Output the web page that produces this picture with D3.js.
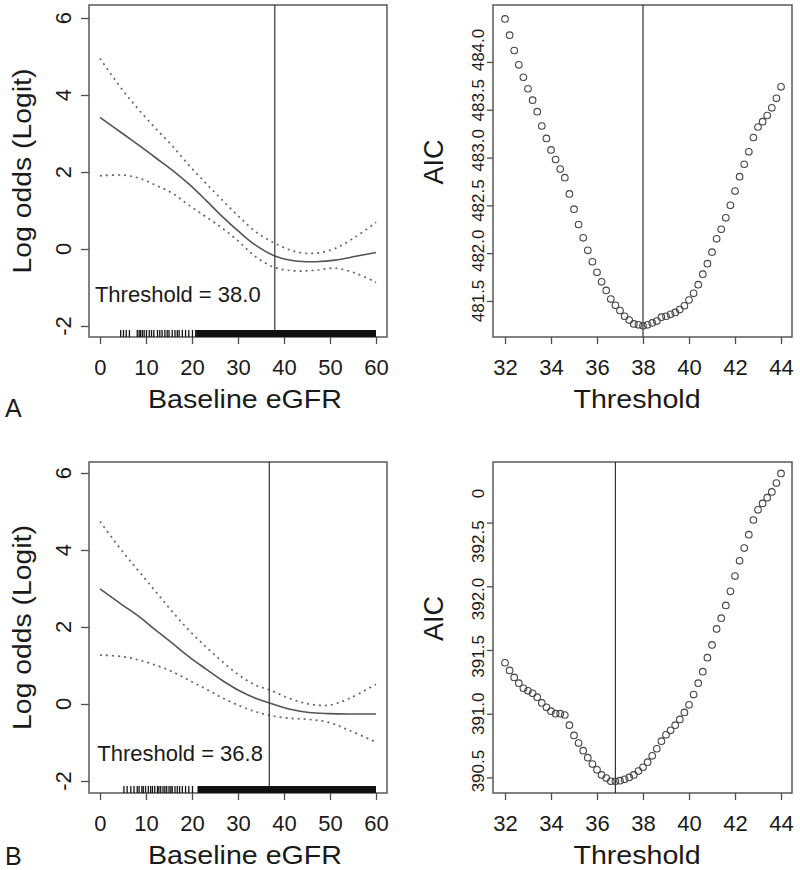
<!DOCTYPE html>
<html><head><meta charset="utf-8">
<script src="https://cdn.jsdelivr.net/npm/d3@7"></script>
<style>
body{margin:0;background:#fff}
svg{display:block}
text{font-family:"Liberation Sans",Arial,Helvetica,sans-serif;fill:#1a1a1a}
</style>
</head><body>
<svg id="c" width="800" height="870"></svg>
<script>
// ---------------- DATA ----------------
const eGFRTicks = [0, 10, 20, 30, 40, 50, 60];
const logitTicks = [-2, 0, 2, 4, 6];
const thresholdTicks = [32, 34, 36, 38, 40, 42, 44];
const aicTicksA = [481.5, 482.0, 482.5, 483.0, 483.5, 484.0];
const aicTicksB = [390.5, 391.0, 391.5, 392.0, 392.5];

// Panel A (left): smooth fit of log odds vs baseline eGFR
const eGFRGridA = [0, 4.9, 8.5, 12.1, 15.7, 19.3, 23, 26.6, 30.2, 33.8, 38, 42.5, 46.9, 51.2, 55.6, 60];
const fitA   = [3.42, 3.00, 2.69, 2.37, 2.05, 1.69, 1.27, 0.84, 0.45, 0.10, -0.18, -0.31, -0.33, -0.29, -0.19, -0.09];
const upperA = [4.95, 4.13, 3.61, 3.13, 2.68, 2.18, 1.71, 1.27, 0.84, 0.45, 0.15, -0.07, -0.11, 0.02, 0.32, 0.69];
const lowerA = [1.90, 1.92, 1.84, 1.66, 1.45, 1.14, 0.84, 0.54, 0.19, -0.20, -0.48, -0.57, -0.55, -0.50, -0.63, -0.87];
const rugA = [4.5, 5.1, 5.7, 6.4, 8.1, 8.5, 8.8, 9.2, 9.6, 10.1, 10.7, 11.2, 11.7, 12.5, 13.0, 13.5, 14.1, 14.6, 15.0, 15.7, 16.3, 16.8, 17.2, 17.9, 18.6, 19.3, 20.1, 20.8];
const rugDenseA = [20.9, 60];
const thresholdA = 38.0;

// Panel A (right): AIC by candidate threshold
const thresholds = [32.0,32.2,32.4,32.6,32.8,33.0,33.2,33.4,33.6,33.8,34.0,34.2,34.4,34.6,34.8,35.0,35.2,35.4,35.6,35.8,36.0,36.2,36.4,36.6,36.8,37.0,37.2,37.4,37.6,37.8,38.0,38.2,38.4,38.6,38.8,39.0,39.2,39.4,39.6,39.8,40.0,40.2,40.4,40.6,40.8,41.0,41.2,41.4,41.6,41.8,42.0,42.2,42.4,42.6,42.8,43.0,43.2,43.4,43.6,43.8,44.0];
const aicA = [484.45,484.28,484.12,483.97,483.84,483.72,483.60,483.48,483.33,483.20,483.08,482.98,482.88,482.79,482.62,482.46,482.30,482.16,482.03,481.91,481.80,481.70,481.61,481.52,481.455,481.40,481.34,481.30,481.26,481.25,481.24,481.25,481.27,481.29,481.33,481.34,481.36,481.38,481.41,481.45,481.51,481.58,481.67,481.78,481.89,482.01,482.15,482.25,482.37,482.50,482.65,482.80,482.93,483.06,483.21,483.32,483.375,483.44,483.52,483.62,483.74];

// Panel B (left)
const eGFRGridB = [0, 4.9, 8.5, 12.1, 15.7, 19.3, 23, 26.6, 30.2, 33.8, 37, 41.1, 45.4, 49.8, 54.1, 60];
const fitB   = [2.99, 2.57, 2.27, 1.92, 1.58, 1.23, 0.91, 0.61, 0.35, 0.15, 0.02, -0.13, -0.22, -0.25, -0.26, -0.26];
const upperB = [4.74, 3.96, 3.44, 2.92, 2.40, 1.92, 1.49, 1.10, 0.75, 0.49, 0.36, 0.15, 0.00, -0.03, 0.14, 0.51];
const lowerB = [1.27, 1.23, 1.14, 1.01, 0.84, 0.62, 0.39, 0.16, -0.04, -0.20, -0.30, -0.37, -0.40, -0.48, -0.68, -0.99];
const rugB = [5.2, 5.9, 6.7, 7.4, 8.1, 8.5, 9.1, 9.4, 9.9, 10.5, 11.0, 11.4, 11.9, 12.5, 12.8, 13.2, 13.7, 14.1, 14.5, 15.0, 15.4, 15.7, 16.3, 16.8, 17.3, 17.9, 18.6, 19.3, 20.1];
const rugDenseB = [21.2, 60];
const thresholdB = 36.8;

// Panel B (right)
const aicB = [391.40,391.34,391.285,391.24,391.20,391.18,391.16,391.13,391.085,391.05,391.02,391.00,391.00,390.99,390.91,390.83,390.77,390.71,390.655,390.605,390.56,390.52,390.495,390.47,390.47,390.475,390.485,390.50,390.52,390.55,390.58,390.62,390.67,390.725,390.785,390.835,390.87,390.91,390.955,391.01,391.07,391.15,391.24,391.33,391.44,391.54,391.665,391.75,391.85,391.96,392.08,392.20,392.30,392.405,392.52,392.60,392.65,392.695,392.74,392.81,392.885];
const strayLabelB = [{value: 392.92, text: "0"}];

// ---------------- DRAWING ----------------
const svg = d3.select("#c");
const BOX = "#4d4d4d";

function boxAndXAxis(g, x, top, bottom, left, right, xTicks) {
  g.append("rect").attr("x", left).attr("y", top).attr("width", right - left).attr("height", bottom - top)
    .attr("fill", "none").attr("stroke", BOX).attr("stroke-width", 1.4);
  const ax = g.append("g").attr("transform", `translate(0,${bottom})`)
    .call(d3.axisBottom(x).tickValues(xTicks).tickSize(7).tickFormat(d3.format("d")));
  ax.select(".domain").remove();
  ax.selectAll(".tick line").attr("stroke", BOX).attr("stroke-width", 1.3);
  ax.selectAll(".tick text").attr("y", 38).attr("dy", 0).attr("font-size", 22).attr("fill", "#1a1a1a");
}

function drawLeft(o) {
  const g = svg.append("g");
  const x = d3.scaleLinear().domain([-2.39, 62.39]).range([89, 387]);
  const y = d3.scaleLinear().domain(o.yDomain).range([o.bottom, o.top]);
  boxAndXAxis(g, x, o.top, o.bottom, 89, 387, eGFRTicks);

  const ay = g.append("g").attr("transform", "translate(89,0)")
    .call(d3.axisLeft(y).tickValues(logitTicks).tickSize(8).tickFormat(""));
  ay.select(".domain").remove();
  ay.selectAll(".tick line").attr("stroke", BOX).attr("stroke-width", 1.3);
  g.selectAll(null).data(logitTicks).join("text")
    .attr("transform", d => `translate(71,${y(d)}) rotate(-90)`)
    .attr("text-anchor", "middle").attr("font-size", 22).text(d => d);

  const line = d3.line().x((d, i) => x(o.grid[i])).y(d => y(d)).curve(d3.curveCatmullRom);
  g.append("path").attr("d", line(o.upper)).attr("fill", "none").attr("stroke", "#666")
    .attr("stroke-width", 1.7).attr("stroke-dasharray", "2,4");
  g.append("path").attr("d", line(o.lower)).attr("fill", "none").attr("stroke", "#666")
    .attr("stroke-width", 1.7).attr("stroke-dasharray", "2,4");
  g.append("path").attr("d", line(o.fit)).attr("fill", "none").attr("stroke", "#555").attr("stroke-width", 1.6);

  g.append("line").attr("x1", x(o.threshold)).attr("x2", x(o.threshold)).attr("y1", o.top).attr("y2", o.bottom)
    .attr("stroke", "#333").attr("stroke-width", 1.2);

  // rug
  g.selectAll(null).data(o.rug).join("line")
    .attr("x1", d => x(d)).attr("x2", d => x(d)).attr("y1", o.bottom - 7).attr("y2", o.bottom)
    .attr("stroke", "#111").attr("stroke-width", 1.3);
  g.append("rect").attr("x", x(o.rugDense[0])).attr("y", o.bottom - 7)
    .attr("width", x(o.rugDense[1]) - x(o.rugDense[0])).attr("height", 7).attr("fill", "#111");

  g.append("text").attr("x", x(o.labelAt[0])).attr("y", y(o.labelAt[1])).attr("font-size", 22)
    .text("Threshold = " + o.threshold.toFixed(1));

  g.append("text").attr("transform", `translate(31,${(o.top + o.bottom) / 2}) rotate(-90) scale(1.09,1)`)
    .attr("text-anchor", "middle").attr("font-size", 26).text("Log odds (Logit)");
  g.append("text").attr("transform", `translate(245,${o.bottom + 71}) scale(1.1,1)`)
    .attr("text-anchor", "middle").attr("font-size", 26).text("Baseline eGFR");
  g.append("text").attr("x", 5).attr("y", o.letterY).attr("font-size", 25).text(o.letter);
}

function drawRight(o) {
  const g = svg.append("g");
  const x = d3.scaleLinear().domain([31.478, 44.478]).range([493, 792]);
  const y = d3.scaleLinear().domain(o.yDomain).range([o.bottom, o.top]);
  boxAndXAxis(g, x, o.top, o.bottom, 493, 792, thresholdTicks);

  const ay = g.append("g").attr("transform", "translate(493,0)")
    .call(d3.axisLeft(y).tickValues(o.yTicks).tickSize(6).tickFormat(""));
  ay.select(".domain").remove();
  ay.selectAll(".tick line").attr("stroke", BOX).attr("stroke-width", 1.3);
  const fmt = d3.format(".1f");
  // tick labels are spread slightly differently from the ticks in the reference
  const ly = v => y(o.labelAnchor) + (y(v) - y(o.labelAnchor)) * o.labelSpread;
  g.selectAll(null).data(o.yTicks).join("text")
    .attr("transform", d => `translate(484,${ly(d)}) rotate(-90)`)
    .attr("text-anchor", "middle").attr("font-size", 17).attr("fill", "#444").text(d => fmt(d));
  if (o.stray) {
    g.selectAll(null).data(o.stray).join("text")
      .attr("transform", d => `translate(484,${ly(d.value)}) rotate(-90)`)
      .attr("text-anchor", "middle").attr("font-size", 17).attr("fill", "#444").text(d => d.text);
  }

  g.append("line").attr("x1", x(o.threshold)).attr("x2", x(o.threshold)).attr("y1", o.top).attr("y2", o.bottom)
    .attr("stroke", "#333").attr("stroke-width", 1.2);

  g.selectAll(null).data(o.aic).join("circle")
    .attr("cx", (d, i) => x(thresholds[i])).attr("cy", d => y(d)).attr("r", 3.3)
    .attr("fill", "none").attr("stroke", "#444").attr("stroke-width", 1.1);

  g.append("text").attr("transform", `translate(443,${(o.top + o.bottom) / 2 - 9}) rotate(-90)`)
    .attr("text-anchor", "middle").attr("font-size", 27).text("AIC");
  g.append("text").attr("transform", `translate(637,${o.bottom + 71}) scale(1.1,1)`)
    .attr("text-anchor", "middle").attr("font-size", 26).text("Threshold");
}

drawLeft({top: 5, bottom: 337, yDomain: [-2.286, 6.338], grid: eGFRGridA, fit: fitA, upper: upperA, lower: lowerA,
  rug: rugA, rugDense: rugDenseA, threshold: thresholdA, labelAt: [-1.1, -1.37], letter: "A", letterY: 417});
drawRight({top: 5, bottom: 337, yDomain: [481.123, 484.596], yTicks: aicTicksA, aic: aicA, threshold: thresholdA,
  labelAnchor: 481.5, labelSpread: 1.05});
drawLeft({top: 462, bottom: 793, yDomain: [-2.312, 6.286], grid: eGFRGridB, fit: fitB, upper: upperB, lower: lowerB,
  rug: rugB, rugDense: rugDenseB, threshold: thresholdB, labelAt: [-0.6, -1.48], letter: "B", letterY: 865});
drawRight({top: 462, bottom: 793, yDomain: [390.378, 392.975], yTicks: aicTicksB, aic: aicB, threshold: thresholdB,
  labelAnchor: 391.0, labelSpread: 0.9, stray: strayLabelB});
</script>
</body></html>
